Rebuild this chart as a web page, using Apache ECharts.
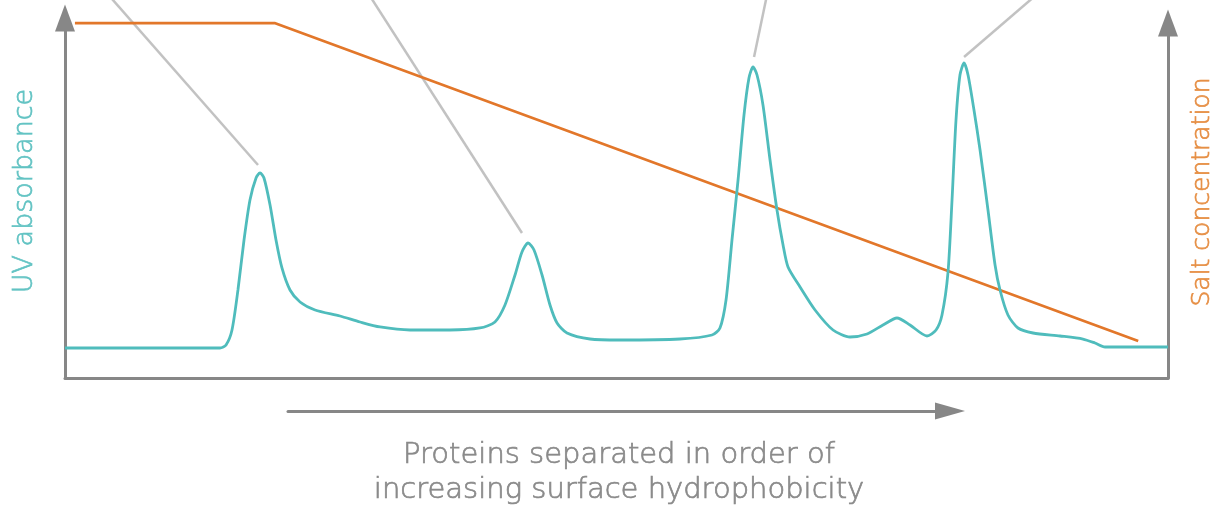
<!DOCTYPE html>
<html>
<head>
<meta charset="utf-8">
<script src="https://cdn.jsdelivr.net/npm/echarts@6/dist/echarts.min.js"></script>
<style>
  html, body { margin: 0; padding: 0; background: #ffffff; }
  #chart { width: 1218px; height: 507px; }
</style>
</head>
<body>
<div id="chart"></div>
<script>
// Elution position (arbitrary units, 0-100) for the UV trace
const uvX = [0, 14.05, 14.6, 15.14, 15.68, 16.23, 16.77, 17.32, 17.68, 18.04, 18.59, 19.13, 19.67, 20.4,
  21.31, 22.67, 24.93, 26.75, 28.56, 31.28, 34.9, 37.62, 38.98, 39.89, 40.8, 41.43, 41.98, 42.52,
  43.25, 43.97, 44.61, 45.51, 47.6, 50.32, 55.76, 58.66, 59.38, 59.93, 60.47, 61.02, 61.56, 62.01,
  62.38, 62.74, 63.28, 63.92, 64.55, 65.1, 65.55, 66.64, 68.0, 69.63, 71.17, 72.71, 74.16, 75.43,
  76.61, 78.15, 78.97, 79.51, 80.05, 80.42, 80.78, 81.14, 81.51, 81.87, 82.41, 82.96, 83.68, 84.32,
  84.77, 85.49, 86.4, 87.76, 90.21, 92.29, 93.38, 94.29, 100];
// UV absorbance (relative units)
const uvY = [8.33, 8.33, 9.17, 13.33, 24.44, 38.33, 49.44, 55.56, 56.94, 55.56, 48.06, 38.33, 30.56, 24.44,
  21.11, 18.89, 17.22, 15.56, 14.17, 13.33, 13.33, 13.89, 15.56, 20.28, 28.61, 35.0, 37.5, 35.56,
  28.61, 20.28, 15.28, 12.5, 10.83, 10.56, 10.83, 11.94, 13.89, 21.67, 38.33, 55.0, 73.06, 83.33,
  86.39, 84.17, 75.83, 60.56, 46.67, 36.94, 30.83, 25.28, 18.89, 13.33, 11.39, 12.22, 14.72, 16.67,
  14.72, 11.67, 13.33, 17.5, 29.17, 49.44, 71.67, 84.17, 87.5, 84.17, 74.44, 63.33, 46.67, 31.39,
  24.44, 17.5, 13.89, 12.5, 11.67, 10.83, 9.72, 8.61, 8.61];

// Salt gradient: hold, then linear decrease
const saltX = [0.9, 19.0, 97.3];
const saltY = [98.6, 98.6, 10.3];

// Callout leader lines: start just above each peak, run off the top edge
const leaderStartX = [17.5, 41.43, 62.47, 81.51];
const leaderStartY = [59.17, 40.28, 89.17, 89.17];
const leaderEndX = [3.54, 27.29, 63.74, 88.58];
const leaderEndY = [107.8, 107.8, 107.8, 107.8];

const yTitleLeft = 'UV absorbance';
const yTitleRight = 'Salt concentration';
const xCaption = 'Proteins separated in order of\nincreasing surface hydrophobicity';

const AXIS_GRAY = '#878787';
const TEAL = '#4fbcbc';
const ORANGE = '#e2772a';
const FONT = '"DejaVu Sans", sans-serif';

const zip = (xs, ys) => xs.map((x, i) => [x, ys[i]]);

// Light text with a hairline outline in the same colour, for a slightly firmer stroke
const lightText = (color, size, extra) => Object.assign({
  color, fontSize: size, fontFamily: FONT, fontWeight: 200,
  textBorderColor: color, textBorderWidth: 0.7
}, extra || {});

const chart = echarts.init(document.getElementById('chart'), null, { renderer: 'canvas' });

const hiddenParts = {
  axisTick: { show: false }, axisLabel: { show: false }, splitLine: { show: false }
};

const leaderSeries = leaderStartX.map((x, i) => ({
  type: 'line',
  xAxisIndex: 0,
  yAxisIndex: 0,
  clip: false,
  silent: true,
  symbol: 'none',
  z: 1,
  lineStyle: { color: '#c2c2c2', width: 2.5 },
  data: [[x, leaderStartY[i]], [leaderEndX[i], leaderEndY[i]]]
}));

chart.setOption({
  animation: false,
  backgroundColor: '#ffffff',
  grid: [
    { left: 65, right: 50, top: 18, bottom: 129, containLabel: false, outerBoundsMode: 'none' },
    { left: 288, right: 268, top: 405, height: 6, containLabel: false, outerBoundsMode: 'none' }
  ],
  xAxis: [
    {
      type: 'value', gridIndex: 0, min: 0, max: 100,
      axisLine: { show: true, onZero: false, lineStyle: { color: AXIS_GRAY, width: 3 } },
      ...hiddenParts
    },
    {
      type: 'value', gridIndex: 1, min: 0, max: 100, position: 'bottom',
      axisLine: {
        show: true, onZero: false,
        symbol: ['none', 'triangle'], symbolSize: [17, 30], symbolOffset: [0, 0],
        lineStyle: { color: AXIS_GRAY, width: 3 }
      },
      ...hiddenParts,
      name: xCaption,
      nameLocation: 'middle',
      nameGap: 27,
      nameTextStyle: lightText('#8a8a8a', 29, { lineHeight: 35 })
    }
  ],
  yAxis: [
    {
      type: 'value', gridIndex: 0, min: 0, max: 100, position: 'left',
      axisLine: {
        show: true, onZero: false,
        symbol: ['none', 'triangle'], symbolSize: [20, 27], symbolOffset: [0, 0],
        lineStyle: { color: AXIS_GRAY, width: 3 }
      },
      ...hiddenParts,
      name: yTitleLeft, nameLocation: 'middle', nameGap: 27, nameRotate: 90,
      nameTextStyle: lightText('#62c3c3', 27, { padding: [0, 0, 0, 14] })
    },
    {
      type: 'value', gridIndex: 0, min: 0, max: 100, position: 'right',
      axisLine: {
        show: true, onZero: false,
        symbol: ['none', 'triangle'], symbolSize: [20, 27], symbolOffset: [0, -5],
        lineStyle: { color: AXIS_GRAY, width: 3 }
      },
      ...hiddenParts,
      name: yTitleRight, nameLocation: 'middle', nameGap: 22, nameRotate: 90,
      nameTextStyle: lightText('#e68f45', 25, { padding: [0, 0, 0, 12] })
    },
    {
      type: 'value', gridIndex: 1, min: 0, max: 1, show: false
    }
  ],
  series: [
    ...leaderSeries,
    {
      name: 'Salt',
      type: 'line',
      xAxisIndex: 0, yAxisIndex: 1,
      symbol: 'none', silent: true, z: 3,
      lineStyle: { color: ORANGE, width: 2.7 },
      data: zip(saltX, saltY)
    },
    {
      name: 'UV',
      type: 'line',
      xAxisIndex: 0, yAxisIndex: 0,
      symbol: 'none', silent: true, z: 4,
      smooth: 0.25,
      lineStyle: { color: TEAL, width: 2.8 },
      data: zip(uvX, uvY)
    }
  ]
});
</script>
</body>
</html>
